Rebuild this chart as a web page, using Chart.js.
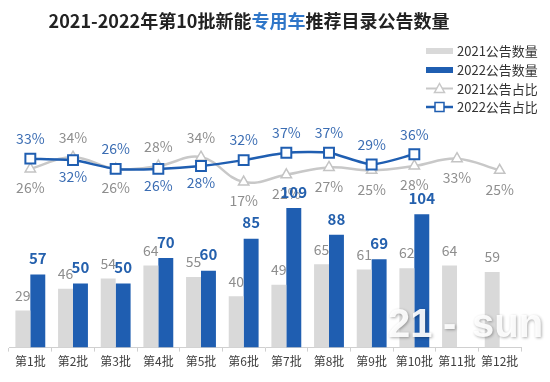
<!DOCTYPE html>
<html><head><meta charset="utf-8">
<script src="https://cdn.jsdelivr.net/npm/chart.js@4/dist/chart.umd.min.js"></script>
<style>html,body{margin:0;padding:0;background:#fff}#wrap{width:550px;height:382px;position:relative}</style>
</head><body><div id="wrap"><canvas id="c" width="550" height="382"></canvas></div>
<script>
const categories = ['第1批','第2批','第3批','第4批','第5批','第6批','第7批','第8批','第9批','第10批','第11批','第12批'];
const count2021 = [29,46,54,64,55,40,49,65,61,62,64,59];
const count2022 = [57,50,50,70,60,85,109,88,69,104,null,null];
const ratio2021 = [26,34,26,28,34,17,22,27,25,28,33,25];
const ratio2022 = [33,32,26,26,28,32,37,37,29,36,null,null];
const seriesNames = ['2021公告数量','2022公告数量','2021公告占比','2022公告占比'];
const titleParts = [['2021-2022年第10批新能','#222222'],['专用车','#2f76c8'],['推荐目录公告数量','#222222']];
const watermark = '21-sun';

// label placement (style, not data): a = above, b = below
const place2021 = ['b','a','b','a','a','b','b','b','b','b','b','b'];
const place2022 = ['a','b','a','b','b','a','a','a','a','a','a','a'];

const FONT = '"Noto Sans CJK SC","Noto Sans",sans-serif';
const BLUE = '#1f5eb1', GRAY_BAR = '#d9d9d9', GRAY_LINE = '#c8c8c8';

const labelPlugin = {
  id: 'valueLabels',
  afterDatasetsDraw(chart) {
    const ctx = chart.ctx;
    ctx.save();
    ctx.textAlign = 'center';
    ctx.textBaseline = 'middle';
    chart.data.datasets.forEach((ds, i) => {
      const meta = chart.getDatasetMeta(i);
      meta.data.forEach((el, j) => {
        const v = ds.data[j];
        if (v == null) return;
        let y, txt;
        if (ds.kind === 'bar21') {
          ctx.font = '14px ' + FONT; ctx.fillStyle = '#8e8e8e';
          txt = String(v); y = el.y - 15;
        } else if (ds.kind === 'bar22') {
          ctx.font = 'bold 15px ' + FONT; ctx.fillStyle = '#2460ad';
          txt = String(v); y = el.y - 16;
        } else if (ds.kind === 'line21') {
          ctx.font = '14px ' + FONT; ctx.fillStyle = '#8e8e8e';
          txt = v + '%'; y = place2021[j] === 'a' ? el.y - 19 : el.y + 19;
        } else {
          ctx.font = '14px ' + FONT; ctx.fillStyle = '#3b6db3';
          txt = v + '%'; y = place2022[j] === 'a' ? el.y - 20 : el.y + 17;
        }
        ctx.fillText(txt, el.x, y);
      });
    });
    ctx.restore();
  }
};

const deco = {
  id: 'deco',
  afterDraw(chart) {
    const ctx = chart.ctx;
    ctx.save();
    // title
    ctx.font = 'bold 18px ' + FONT;
    ctx.textBaseline = 'middle';
    ctx.textAlign = 'left';
    let total = 0;
    titleParts.forEach(p => total += ctx.measureText(p[0]).width);
    let x = 249 - total / 2;
    titleParts.forEach(p => { ctx.fillStyle = p[1]; ctx.fillText(p[0], x, 21); x += ctx.measureText(p[0]).width; });
    // legend
    const rows = [51, 70, 88.5, 107];
    ctx.font = '13px ' + FONT;
    rows.forEach((ry, k) => {
      const sx = 426, ex = 453, cx = 439.5;
      if (k === 0 || k === 1) {
        ctx.fillStyle = k === 0 ? GRAY_BAR : BLUE;
        ctx.fillRect(sx, ry - 3, ex - sx, 6);
      } else {
        const col = k === 2 ? GRAY_LINE : BLUE;
        ctx.strokeStyle = col; ctx.lineWidth = k === 2 ? 2 : 2.5;
        ctx.beginPath(); ctx.moveTo(sx, ry); ctx.lineTo(ex, ry); ctx.stroke();
        ctx.fillStyle = '#fff'; ctx.lineWidth = 1.5;
        ctx.beginPath();
        if (k === 2) {
          ctx.moveTo(cx, ry - 5); ctx.lineTo(cx + 5, ry + 4); ctx.lineTo(cx - 5, ry + 4); ctx.closePath();
        } else {
          ctx.rect(cx - 4.5, ry - 4.5, 9, 9);
        }
        ctx.fill(); ctx.stroke();
      }
      ctx.fillStyle = '#333333';
      ctx.textAlign = 'left';
      ctx.fillText(seriesNames[k], 457, ry + 0.5);
    });
    // watermark
    ctx.font = 'bold 40px "Liberation Sans", Arial, sans-serif';
    ctx.textAlign = 'left';
    ctx.textBaseline = 'alphabetic';
    ctx.shadowColor = 'rgba(0,0,0,0.35)';
    ctx.shadowBlur = 3;
    ctx.shadowOffsetX = 1; ctx.shadowOffsetY = 1;
    ctx.fillStyle = 'rgba(255,255,255,0.92)';
    const wm = watermark.split('-');
    ctx.fillText(wm[0], 388, 337);
    ctx.fillText('-', 443, 337);
    ctx.fillText(wm[1], 472, 337);
    ctx.restore();
  }
};

new Chart(document.getElementById('c'), {
  data: {
    labels: categories,
    datasets: [
      { type: 'line', kind: 'line22', label: seriesNames[3], data: ratio2022, yAxisID: 'y2', order: 0,
        borderColor: BLUE, borderWidth: 2.5, tension: 0.2, pointStyle: 'rect', pointRadius: 7,
        pointBackgroundColor: '#fff', pointBorderColor: BLUE, pointBorderWidth: 2, spanGaps: false },
      { type: 'line', kind: 'line21', label: seriesNames[2], data: ratio2021, yAxisID: 'y2', order: 1,
        borderColor: GRAY_LINE, borderWidth: 2.5, tension: 0.4, pointStyle: 'triangle', pointRadius: 6,
        pointBackgroundColor: '#fff', pointBorderColor: '#c4c4c4', pointBorderWidth: 1.5 },
      { type: 'bar', kind: 'bar21', label: seriesNames[0], data: count2021, yAxisID: 'y', order: 2,
        backgroundColor: GRAY_BAR, categoryPercentage: 0.7, barPercentage: 1.0 },
      { type: 'bar', kind: 'bar22', label: seriesNames[1], data: count2022, yAxisID: 'y', order: 3,
        backgroundColor: BLUE, categoryPercentage: 0.7, barPercentage: 1.0 }
    ]
  },
  options: {
    responsive: false,
    devicePixelRatio: 1,
    animation: false,
    layout: { padding: { top: 40, left: 4, right: 29, bottom: 10 } },
    plugins: { legend: { display: false }, tooltip: { enabled: false }, title: { display: false } },
    scales: {
      x: {
        offset: true,
        grid: { display: true, drawOnChartArea: false, offset: true, tickLength: 4, color: '#d0d0d0' },
        border: { color: '#d0d0d0' },
        ticks: { color: '#404040', font: { family: FONT, size: 12 }, padding: 3, maxRotation: 0, autoSkip: false }
      },
      y: { display: false, min: 0, max: 240 },
      y2: { display: false, min: -96, max: 114 }
    }
  },
  plugins: [labelPlugin, deco]
});
</script>
</body></html>
